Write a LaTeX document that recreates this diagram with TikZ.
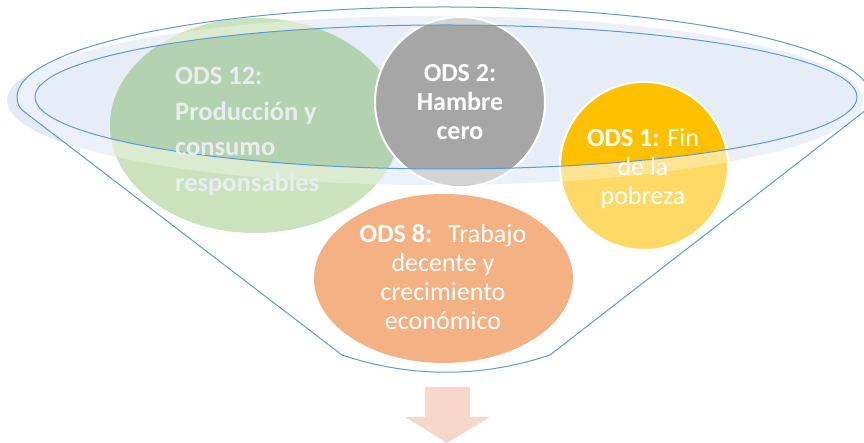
\documentclass[tikz,border=0pt]{standalone}
\usepackage{fontspec}
\setmainfont{Carlito}
\usetikzlibrary{positioning}
\definecolor{funnelline}{HTML}{5B9BD5}
\definecolor{shadowblue}{HTML}{E4EAF5}
\definecolor{innerblue}{HTML}{E7EDF7}
\definecolor{greenlight}{HTML}{CAE3BD}
\definecolor{greenfull}{HTML}{B3D2AF}
\definecolor{greylight}{HTML}{C2C2C2}
\definecolor{greyfull}{HTML}{A6A6A6}
\definecolor{yellowlight}{HTML}{FFD966}
\definecolor{yellowfull}{HTML}{FFC000}
\definecolor{orangefill}{HTML}{F4B183}
\definecolor{arrowfill}{HTML}{F8D7CB}
\definecolor{paletext}{HTML}{E9EDF0}
\tikzset{funnel/.style = {draw = funnelline, line width = 1pt}}
\tikzset{odstext/.style = {text = white, inner sep = 0pt, align = center, font = \fontsize{26}{29}\selectfont}}
\tikzset{ring/.style = {draw = white, line width = 2pt}}
% the three shapes that the funnel mouth cuts through
\newcommand{\odsshapes}[3]{
	\fill[#1] (255, 317.5) ellipse [x radius = 145, y radius = 107.5];
	\filldraw[#2, ring] (460, 341) circle [radius = 85];
	\filldraw[#3, ring] (644, 277) circle [radius = 84];
}

\begin{document}
\begin{tikzpicture}[x = 1pt, y = 1pt]
	\useasboundingbox (0, 0) rectangle (864, 443);

	% mouth of the funnel
	\fill[shadowblue] (435, 342.5) ellipse [x radius = 428, y radius = 84.5];
	\fill[innerblue] (446, 346) ellipse [x radius = 411, y radius = 72];

	\odsshapes{greenlight}{greylight}{yellowlight}
	\begin{scope}
		\clip (446, 346) ellipse [x radius = 411, y radius = 72];
		\odsshapes{greenfull}{greyfull}{yellowfull}
	\end{scope}
	\fill[orangefill] (443.5, 164.5) ellipse [x radius = 129.5, y radius = 84.5];

	\begin{scope}
		\clip (22, 333) .. controls (18, 338) .. (17, 346) arc [start angle = 180, end angle = 0, x radius = 427, y radius = 90] .. controls (871, 338) .. (866, 333) -- (550, 88) .. controls (481, 65) and (411, 65) .. (342, 88) -- cycle;
		\fill[white, opacity = .3, even odd rule] (435, 342.5) ellipse [x radius = 428, y radius = 84.5] (446, 346) ellipse [x radius = 411, y radius = 72];
	\end{scope}

	\draw[funnel] (446, 346) ellipse [x radius = 411, y radius = 72];
	\draw[funnel] (22, 333) .. controls (18, 338) .. (17, 346) arc [start angle = 180, end angle = 0, x radius = 427, y radius = 90] .. controls (871, 338) .. (866, 333) -- (550, 88) .. controls (481, 65) and (411, 65) .. (342, 88) -- cycle;

	% texts
	\node[odstext, text = paletext, align = left, anchor = north west, font = \fontsize{26.5}{35.5}\selectfont\bfseries] (ods12) at (175, 376) {ODS 12:\\Producción y\\consumo\\responsables};
	\node[odstext, anchor = north, font = \fontsize{26}{29}\selectfont\bfseries] (ods2) at (460, 379) {ODS 2:\\Hambre\\cero};
	\node[odstext, anchor = north] (ods1) at (643, 315) {\textbf{ODS 1:} Fin\\de la\\pobreza};
	\node[odstext, anchor = north] (ods8) at (443, 219) {\textbf{ODS 8:}\hspace{16pt}Trabajo\\decente y\\crecimiento\\económico};

	% arrow out of the funnel
	\fill[arrowfill] (425, 56) -- (470, 56) -- (470, 26) -- (490, 26) -- (447, 0) -- (405, 26) -- (425, 26) -- cycle;
\end{tikzpicture}
\end{document}
